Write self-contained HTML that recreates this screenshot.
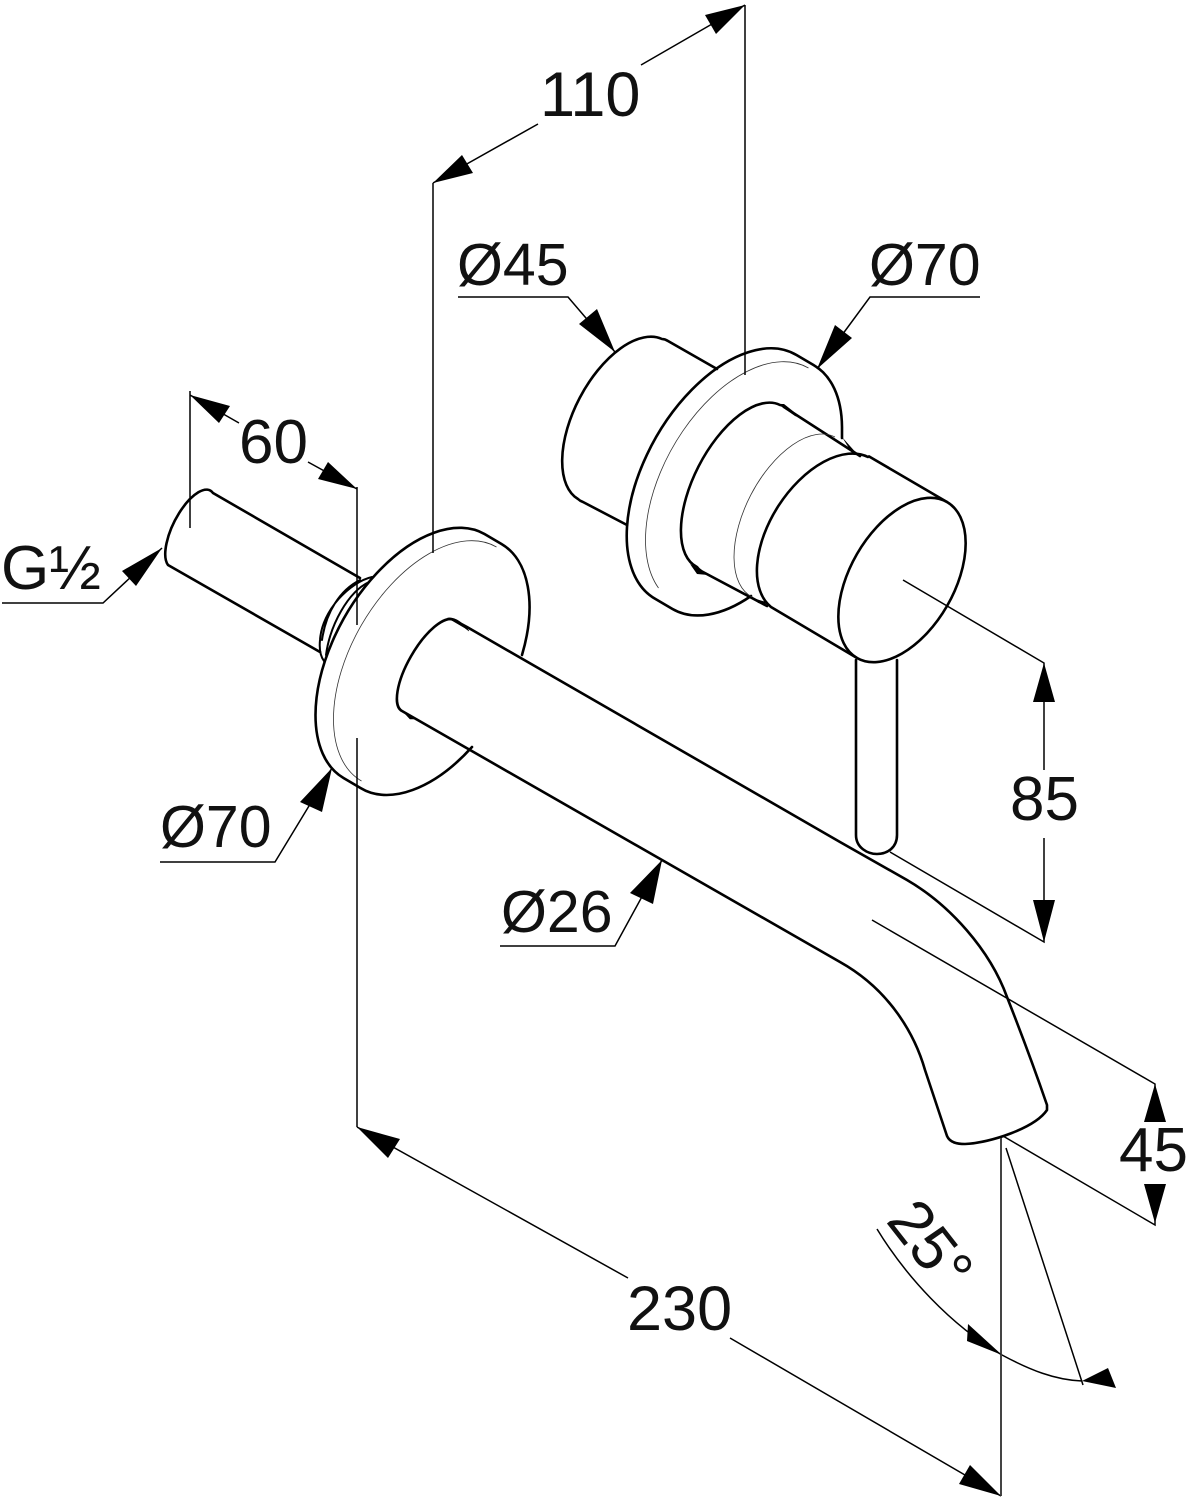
<!DOCTYPE html>
<html><head><meta charset="utf-8"><style>
html,body{margin:0;padding:0;background:#fff}
svg{display:block}
text{font-family:"Liberation Sans",sans-serif;font-size:59px;fill:#111}
.o{fill:none;stroke:#000;stroke-width:2.6;stroke-linecap:round;stroke-linejoin:round}
.d{fill:none;stroke:#000;stroke-width:1.5}
.t{fill:none;stroke:#333;stroke-width:.8}
</style></head><body>
<svg width="1189" height="1500" viewBox="0 0 1189 1500" xmlns="http://www.w3.org/2000/svg">
<rect width="1189" height="1500" fill="#fff"/>
<!-- left stem -->
<path class="o" d="M360 578L213 493A41.4 17 -63 0 0 168 565L320 652"/>
<path class="o" style="stroke-width:2" d="M372 577C350 582 322 610 320 640C319 650 321 657 324 661M369 582C348 592 330 625 326 655M360 580C340 590 326 612 322 640"/>
<!-- left flange -->
<path class="o" d="M522 655A141 80 -60 0 0 501.5 544L484.5 534A141 80 -60 0 0 315.5 715A141 80 -60 0 0 343.5 778L360.5 788A141 80 -60 0 0 472 747"/>
<path class="t" d="M496.5 547A135 78 -60 0 0 361.5 781"/>
<!-- spout -->
<path class="o" d="M454 620A51.5 19 -60 0 0 402 711L840 962C890 990 915 1035 925 1070L947 1136C950 1143 958 1144 965 1144C990 1143 1035 1128 1047 1110L1047 1105C1035 1070 1020 1030 1007 997C990 950 950 905 907 880L840 842L467 627Z"/>
<path d="M448 618C455 617 462 622 469 631L465 628Z M398 706C402 712 410 716 416 719L410 719Z" fill="#000" stroke="#000" stroke-width=".6"/>
<!-- lever -->
<path class="o" d="M856 660V835C856 848 868 854 877 854C888 854 897 847 897 835V660"/>
<!-- handle: back cylinder -->
<path class="o" d="M717 369L668 341Q665 339 662 339A90.4 47 -62.3 0 0 578 499Q580 501 583 502L627 525"/>
<!-- handle flange -->
<path class="o" d="M842 438V427A141 80 -60 0 0 813.5 365L796.5 355A141 80 -60 0 0 627 527A141 80 -60 0 0 655.5 599L672.5 609A141 80 -60 0 0 751 596"/>
<path class="t" d="M808.5 368A135 78 -60 0 0 658.5 588"/>
<!-- handle neck -->
<path class="o" d="M860 456L784 407Q782 405 780 405A90 44 -62.6 0 0 697 567Q699 570 703 572L767 606"/>
<path d="M778 404L784 404L803 419L795 416Z M690 564L703 572L708 575L697 574Z M842 437L858 455L852 453Z M756 599L766 602L767 604L758 603Z" fill="#000"/>
<path class="t" d="M835 437A90 48 -62.6 0 0 752 597"/>
<!-- knob -->
<path class="o" d="M947 502L870 457Q869 456 868 457A89.5 52 -57 0 0 771 607L857 658"/>
<ellipse class="o" cx="902" cy="580" rx="90" ry="52" transform="rotate(-60 902 580)"/>
<!-- dimension lines -->
<path class="d" d="M433 183V553M745 5V375M433 183L538 124M641 65L745 5"/>
<path class="d" d="M458 297H568L615 352M980 297H870L817 369"/>
<path class="d" d="M190 391V528M357 487V625M357 738V1127M190 395L239 423M308 462L357 489"/>
<path class="d" d="M2 603H103L162 548M160 862H275L332 768M500 946H615L662 860"/>
<path class="d" d="M357 1127L628 1278M730 1338L1001 1496"/>
<path class="d" d="M903 580L1044 663V770M1044 838V942L890 852"/>
<path class="d" d="M872 920L1155 1084V1100M1155 1210V1225L1003 1136"/>
<path class="d" d="M1006 1148L1083 1385M877 1229C905 1275 950 1325 1002 1355C1030 1370 1055 1380 1082 1381"/>
<path d="M1001 1138V1496" fill="none" stroke="#444" stroke-width="2"/>
<!-- arrowheads -->
<g fill="#000">
<path d="M433 183L462 155L473 173Z M745 5L705 15L716 34Z"/>
<path d="M615 352L579 324L597 309Z M817 369L835 325L852 338Z"/>
<path d="M190 395L230 406L219 423Z M357 489L328 462L318 479Z"/>
<path d="M162 548L122 571L136 586Z M332 768L322 812L300 802Z M662 860L653 904L630 893Z"/>
<path d="M357 1127L400 1139L388 1158Z M1001 1496L959 1484L970 1465Z"/>
<path d="M1044 663L1033 702H1055Z M1044 942L1033 900H1055Z"/>
<path d="M1155 1084L1144 1122H1166Z M1155 1223L1144 1184H1166Z"/>
<path d="M1002 1355L968 1324L967 1341Z M1082 1381L1108 1368L1116 1388Z"/>
</g>
<!-- labels -->
<text x="540" y="116" style="font-size:63px">110</text>
<text x="457" y="285">Ø45</text>
<text x="869" y="285">Ø70</text>
<text x="239" y="463" style="font-size:62px">60</text>
<text x="1" y="589" style="font-size:62px">G½</text>
<text x="160" y="847">Ø70</text>
<text x="501" y="932">Ø26</text>
<text x="1010" y="820" style="font-size:62px">85</text>
<text x="1119" y="1171" style="font-size:62px">45</text>
<text x="627" y="1330" style="font-size:63px">230</text>
<text transform="translate(885 1221) rotate(52)" style="font-size:62px">25°</text>
</svg>
</body></html>
